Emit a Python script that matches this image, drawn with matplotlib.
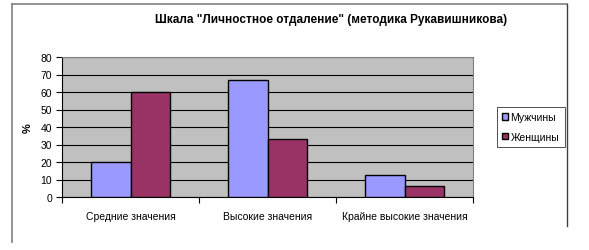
import matplotlib.pyplot as plt
import numpy as np
from matplotlib.lines import Line2D

plt.rcParams['font.family'] = ['Liberation Sans', 'DejaVu Sans']

categories = ["Средние значения", "Высокие значения", "Крайне высокие значения"]
men = [20, 67, 12.5]
women = [60, 33, 6.5]
series_names = ["Мужчины", "Женщины"]
title = 'Шкала "Личностное отдаление" (методика Рукавишникова)'

fig = plt.figure(figsize=(5.89, 2.51), dpi=100)
ax = fig.add_axes([62/589, 1-198/251, 411/589, 140/251])

x = np.arange(len(categories))
w = 1/3.5
ax.set_facecolor('#c0c0c0')
ax.bar(x - w/2, men, w, color='#9999ff', edgecolor='black', linewidth=1, zorder=3, label=series_names[0])
ax.bar(x + w/2, women, w, color='#993366', edgecolor='black', linewidth=1, zorder=3, label=series_names[1])

ax.set_xlim(-0.5, len(categories) - 0.5)
ax.set_ylim(0, 80)
ax.set_yticks(range(0, 81, 10))
ax.yaxis.grid(True, color='black', linewidth=0.8, zorder=1)
ax.set_axisbelow(True)

ax.set_xticks(np.arange(-0.5, len(categories), 1))
ax.set_xticklabels([])
ax.set_xticks(x, minor=True)
ax.set_xticklabels(categories, minor=True)
ax.tick_params(axis='x', which='minor', length=0, pad=10, labelsize=7.5)
ax.tick_params(axis='x', which='major', length=4, direction='out', color='black')
ax.tick_params(axis='y', length=4, direction='out', labelsize=7.5, pad=3)

for s in ['top', 'right']:
    ax.spines[s].set_color('#808080')
for s in ['left', 'bottom']:
    ax.spines[s].set_color('black')

ax.set_ylabel('%', fontsize=8, fontweight='bold', labelpad=6)

fig.text(331/589, 1-20/251, title, ha='center', va='center', fontsize=8.5, fontweight='bold')

leg = fig.legend(loc='upper left', bbox_to_anchor=(497/589, 1-108/251), fontsize=7.5,
                 frameon=True, fancybox=False, edgecolor='black', handlelength=0.6,
                 handleheight=0.6, handletextpad=0.2, borderpad=0.5, labelspacing=0.9,
                 borderaxespad=0)
leg.get_frame().set_linewidth(0.6)

# chart area border (left, top, right)
fig.add_artist(Line2D([12/589, 12/589], [1-243/251, 1-5/251], color='#808080', linewidth=1.2))
fig.add_artist(Line2D([12/589, 567/589], [1-5/251, 1-5/251], color='#808080', linewidth=1.2))
fig.add_artist(Line2D([567/589, 567/589], [1-227/251, 1-5/251], color='#404040', linewidth=1.0))

fig.savefig('out.png', dpi=100)
